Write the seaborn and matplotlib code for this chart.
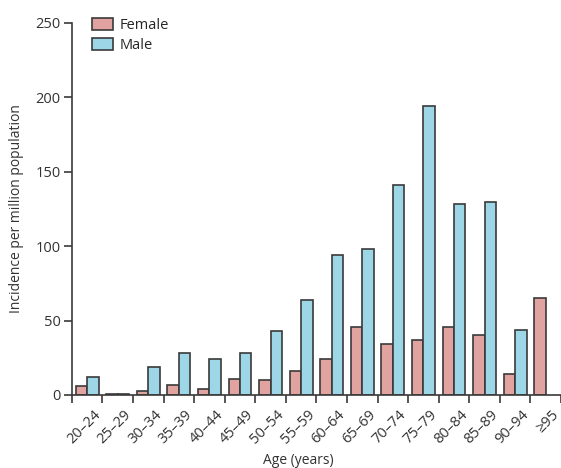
import pandas as pd
import matplotlib.pyplot as plt
import matplotlib.transforms as mtransforms
import seaborn as sns
import numpy as np

ages = ['20–24', '25–29', '30–34', '35–39', '40–44', '45–49', '50–54', '55–59',
        '60–64', '65–69', '70–74', '75–79', '80–84', '85–89', '90–94', '≥95']
female = [6, 1, 3, 7, 4, 11, 10, 16, 24, 46, 34, 37, 46, 40, 14, 65]
male = [12, 1, 19, 28, 24, 28, 43, 64, 94, 98, 141, 194, 128, 130, 44, np.nan]

df = pd.DataFrame({
    'age': ages * 2,
    'incidence': female + male,
    'sex': ['Female'] * len(ages) + ['Male'] * len(ages),
})

sns.set_style('ticks')
plt.rcParams['font.family'] = ['Open Sans', 'DejaVu Sans']
dark = '#3a3a3a'
txt = '#333333'

fig = plt.figure(figsize=(5.61, 4.68), dpi=100)
ax = fig.add_axes([0.128, 0.156, 0.872, 0.795])

sns.barplot(data=df, x='age', y='incidence', hue='sex', order=ages,
            palette={'Female': '#e0a3a0', 'Male': '#9dd6e6'}, saturation=1,
            edgecolor=dark, linewidth=1.2, width=0.75, ax=ax)

ax.set_xlim(-0.5, len(ages) - 0.5)
ax.set_ylim(0, 250)
ax.set_yticks([0, 50, 100, 150, 200, 250])
ax.set_xticks(np.arange(len(ages)))
ax.set_xticklabels(ages, rotation=45, ha='right', rotation_mode='anchor')
ax.set_xticks(np.arange(-0.5, len(ages), 1), minor=True)
ax.tick_params(axis='x', which='major', length=0, pad=9, labelsize=10.5, colors=txt)
ax.tick_params(axis='x', which='minor', length=6, width=1.2, color=dark)
ax.tick_params(axis='y', length=6, width=1.2, color=dark, labelsize=10.5, labelcolor=txt, pad=2)

# nudge rotated labels a little to the right, like the original
shift = mtransforms.ScaledTranslation(0.06, 0, fig.dpi_scale_trans)
for lab in ax.get_xticklabels():
    lab.set_transform(lab.get_transform() + shift)

for s in ['top', 'right']:
    ax.spines[s].set_visible(False)
for s in ['left', 'bottom']:
    ax.spines[s].set_color(dark)
    ax.spines[s].set_linewidth(1.2)

ax.set_xlabel('Age (years)', fontsize=10, color=txt, labelpad=6)
ax.xaxis.set_label_coords(0.462, -0.155)
ax.set_ylabel('Incidence per million population', fontsize=10, color=txt, labelpad=8)

ax.legend(loc='upper left', bbox_to_anchor=(0.03, 1.03), frameon=False, fontsize=10.5,
          handlelength=1.4, handleheight=0.9, handletextpad=0.5, labelspacing=0.35,
          borderaxespad=0, title=None)

fig.savefig('out.png', dpi=100)
